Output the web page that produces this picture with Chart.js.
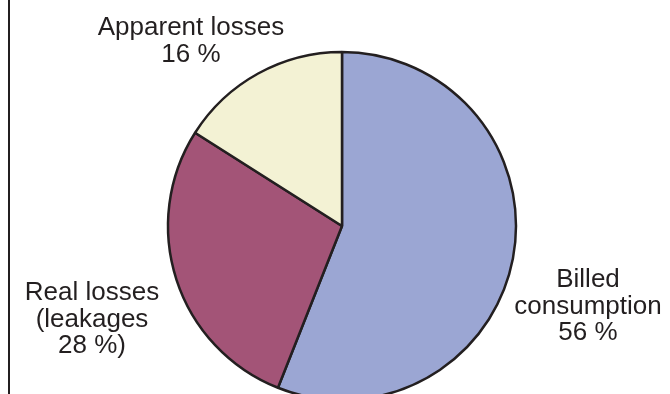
<!DOCTYPE html>
<html>
<head>
<meta charset="utf-8">
<script src="https://cdn.jsdelivr.net/npm/chart.js@4.4.1/dist/chart.umd.min.js"></script>
<style>
  html, body { margin: 0; padding: 0; background: #fff; }
  #wrap { width: 670px; height: 394px; position: relative; }
</style>
</head>
<body>
<div id="wrap"><canvas id="pie"></canvas></div>
<script>
// Slice names (as printed, line by line) and shares in percent
const categories = ['Billed consumption', 'Real losses (leakages)', 'Apparent losses'];
const shares = [56, 28, 16];
const labelLines = [
    ['Billed', 'consumption', '56 %'],
    ['Real losses', '(leakages', '28 %)'],
    ['Apparent losses', '16 %']
];
const sliceColors = ['#9ba6d3', '#a35477', '#f3f2d4'];

// Label anchors relative to the pie centre (layout only)
const labelOffsets = [
    { dx: 246, dy: 61 },
    { dx: -250, dy: 74 },
    { dx: -151, dy: -191 }
];

// Draws the outside labels and the left frame line
const labelPlugin = {
    id: 'outsideLabels',
    afterDraw: function(chart) {
        const ctx = chart.ctx;
        const arc = chart.getDatasetMeta(0).data[0];
        ctx.save();

        // Left frame line
        ctx.strokeStyle = '#231f20';
        ctx.lineWidth = 2;
        ctx.beginPath();
        ctx.moveTo(9, 0);
        ctx.lineTo(9, chart.height);
        ctx.stroke();

        ctx.fillStyle = '#231f20';
        ctx.font = '26px "Liberation Sans", Arial, sans-serif';
        ctx.textAlign = 'center';
        ctx.textBaseline = 'alphabetic';
        labelLines.forEach(function(lines, i) {
            const off = labelOffsets[i];
            lines.forEach(function(line, j) {
                ctx.fillText(line, arc.x + off.dx, arc.y + off.dy + j * 26.7);
            });
        });
        ctx.restore();
    }
};

const ctx = document.getElementById('pie').getContext('2d');
new Chart(ctx, {
    type: 'pie',
    data: {
        labels: categories,
        datasets: [{
            data: shares,
            backgroundColor: sliceColors,
            borderColor: '#231f20',
            borderWidth: 2.5,
            borderAlign: 'center',
            clip: false
        }]
    },
    options: {
        responsive: true,
        maintainAspectRatio: false,
        animation: false,
        radius: 174,
        layout: {
            padding: { top: 58, bottom: 0, left: 14, right: 0 }
        },
        plugins: {
            legend: { display: false },
            tooltip: { enabled: false }
        }
    },
    plugins: [labelPlugin]
});
</script>
</body>
</html>
